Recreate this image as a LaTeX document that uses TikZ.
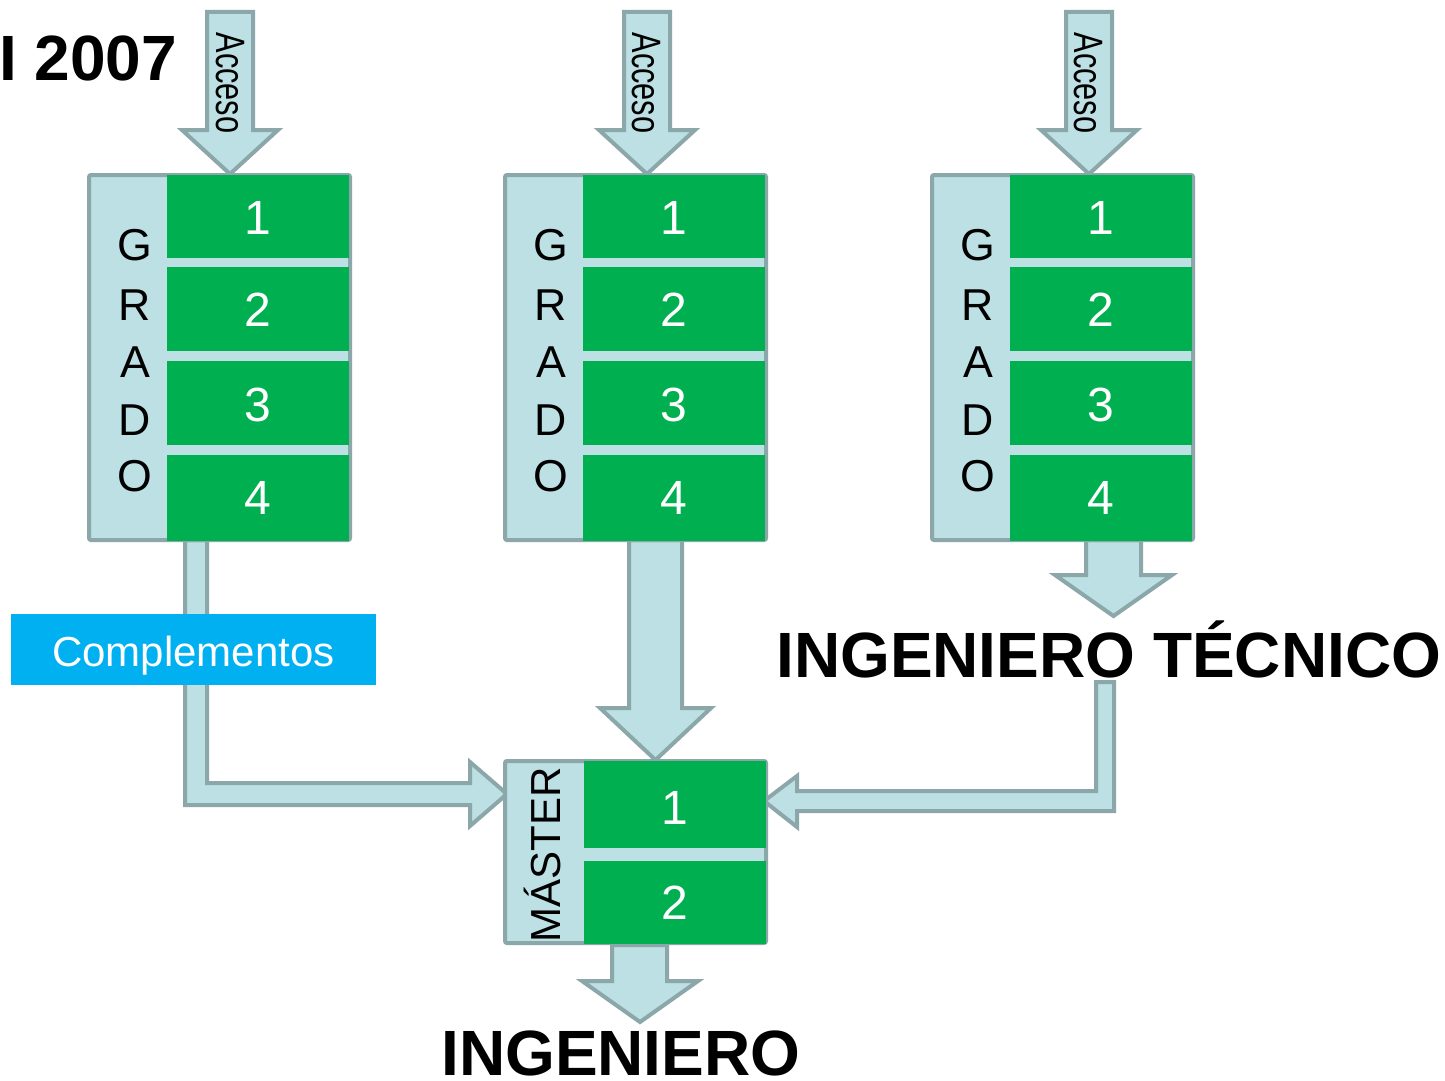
\documentclass[tikz,border=0pt]{standalone}
\usepackage{fontspec}
\setmainfont{Liberation Sans}
\definecolor{lblue}{HTML}{BCE0E3}
\definecolor{bgray}{HTML}{8BA7AA}
\definecolor{cgreen}{HTML}{00B050}
\definecolor{ccyan}{HTML}{00B0F0}
\begin{document}
\begin{tikzpicture}[x=0.75pt,y=-0.75pt,
  barrow/.style={fill=lblue, draw=bgray, line width=3pt, line join=miter},
  frame/.style={fill=lblue, draw=bgray, line width=3pt, rounded corners=1.5pt},
  cellfill/.style={fill=cgreen},
  num/.style={text=white, font=\fontsize{36}{36}\selectfont, inner sep=0pt},
  letter/.style={font=\fontsize{33.5}{33.5}\selectfont, inner sep=0pt},
  acc/.style={font=\fontsize{30.75}{30.75}\selectfont, rotate=-90, inner sep=0pt},
  big/.style={font=\bfseries\fontsize{48}{48}\selectfont, inner sep=0pt},
  comp/.style={text=white, font=\fontsize{31.5}{31.5}\selectfont, inner sep=0pt}
]
\useasboundingbox[fill=white] (0,0) rectangle (1445,1081);

% ---- block arrows ----
\foreach \cx in {230,647,1089}{
  \draw[barrow] (\cx-23,12) -- (\cx+23,12) -- (\cx+23,130) -- (\cx+48,130) -- (\cx,174)
     -- (\cx-48,130) -- (\cx-23,130) -- cycle;
}
% grado 2 -> master
\draw[barrow] (629,540) -- (682,540) -- (682,708) -- (711,708) -- (655.5,760)
   -- (600,708) -- (629,708) -- cycle;
% grado 3 -> ingeniero tecnico
\draw[barrow] (1086,540) -- (1141,540) -- (1141,575) -- (1172,575) -- (1113.5,616)
   -- (1055,575) -- (1086,575) -- cycle;
% master -> ingeniero
\draw[barrow] (612,945) -- (667,945) -- (667,981) -- (698,981) -- (640,1022)
   -- (582,981) -- (612,981) -- cycle;
% grado 1 -> complementos -> master
\draw[barrow] (185,540) -- (207,540) -- (207,783) -- (470,783) -- (470,762) -- (507,794)
   -- (470,826) -- (470,805) -- (185,805) -- cycle;
% ingeniero tecnico -> master
\draw[barrow] (1096,682) -- (1114,682) -- (1114,811) -- (797,811) -- (797,827) -- (764,801)
   -- (797,776) -- (797,791) -- (1096,791) -- cycle;

% ---- GRADO blocks ----
\foreach \bx/\n in {0/a,416/b,843/c}{
  \draw[frame] (89+\bx,175) rectangle (350+\bx,540);
  \fill[cellfill] (167+\bx,175) rectangle (349+\bx,258);
  \fill[cellfill] (167+\bx,267) rectangle (349+\bx,351);
  \fill[cellfill] (167+\bx,361) rectangle (349+\bx,445);
  \fill[cellfill] (167+\bx,455) rectangle (349+\bx,541);
  \node[num] (\n1) at (258+\bx,218) {1};
  \node[num] (\n2) at (258+\bx,310) {2};
  \node[num] (\n3) at (258+\bx,405) {3};
  \node[num] (\n4) at (258+\bx,498) {4};
  \node[letter] (\n G) at (135+\bx,245) {G};
  \node[letter] (\n R) at (135+\bx,305) {R};
  \node[letter] (\n A) at (135+\bx,362) {A};
  \node[letter] (\n D) at (135+\bx,420) {D};
  \node[letter] (\n O) at (135+\bx,476) {O};
}
\node[acc] (acc1) at (230,83) {\scalebox{0.75}[1]{Acceso}};
\node[acc] (acc2) at (646,83) {\scalebox{0.75}[1]{Acceso}};
\node[acc] (acc3) at (1088,83) {\scalebox{0.75}[1]{Acceso}};

% ---- MASTER block ----
\draw[frame] (505,761) rectangle (766,943);
\fill[cellfill] (584,761) rectangle (766,848);
\fill[cellfill] (584,861) rectangle (766,944);
\node[num] (m1) at (675,808) {1};
\node[num] (m2) at (675,903) {2};
\node[font=\fontsize{31.5}{31.5}\selectfont, inner sep=0pt, rotate=90, anchor=base] (mst) at (560,855) {MÁSTER};

% ---- Complementos ----
\fill[ccyan] (11,614) rectangle (376,685);
\node[comp, anchor=base] (compl) at (193.5,666) {Complementos};

% ---- big titles ----
\node[big, anchor=base west] (yr) at (-1,80) {I 2007};
\node[big, anchor=base west] (ingt) at (776,677) {INGENIERO TÉCNICO};
\node[big, anchor=base west] (ing) at (441,1075) {INGENIERO};
\end{tikzpicture}
\end{document}
